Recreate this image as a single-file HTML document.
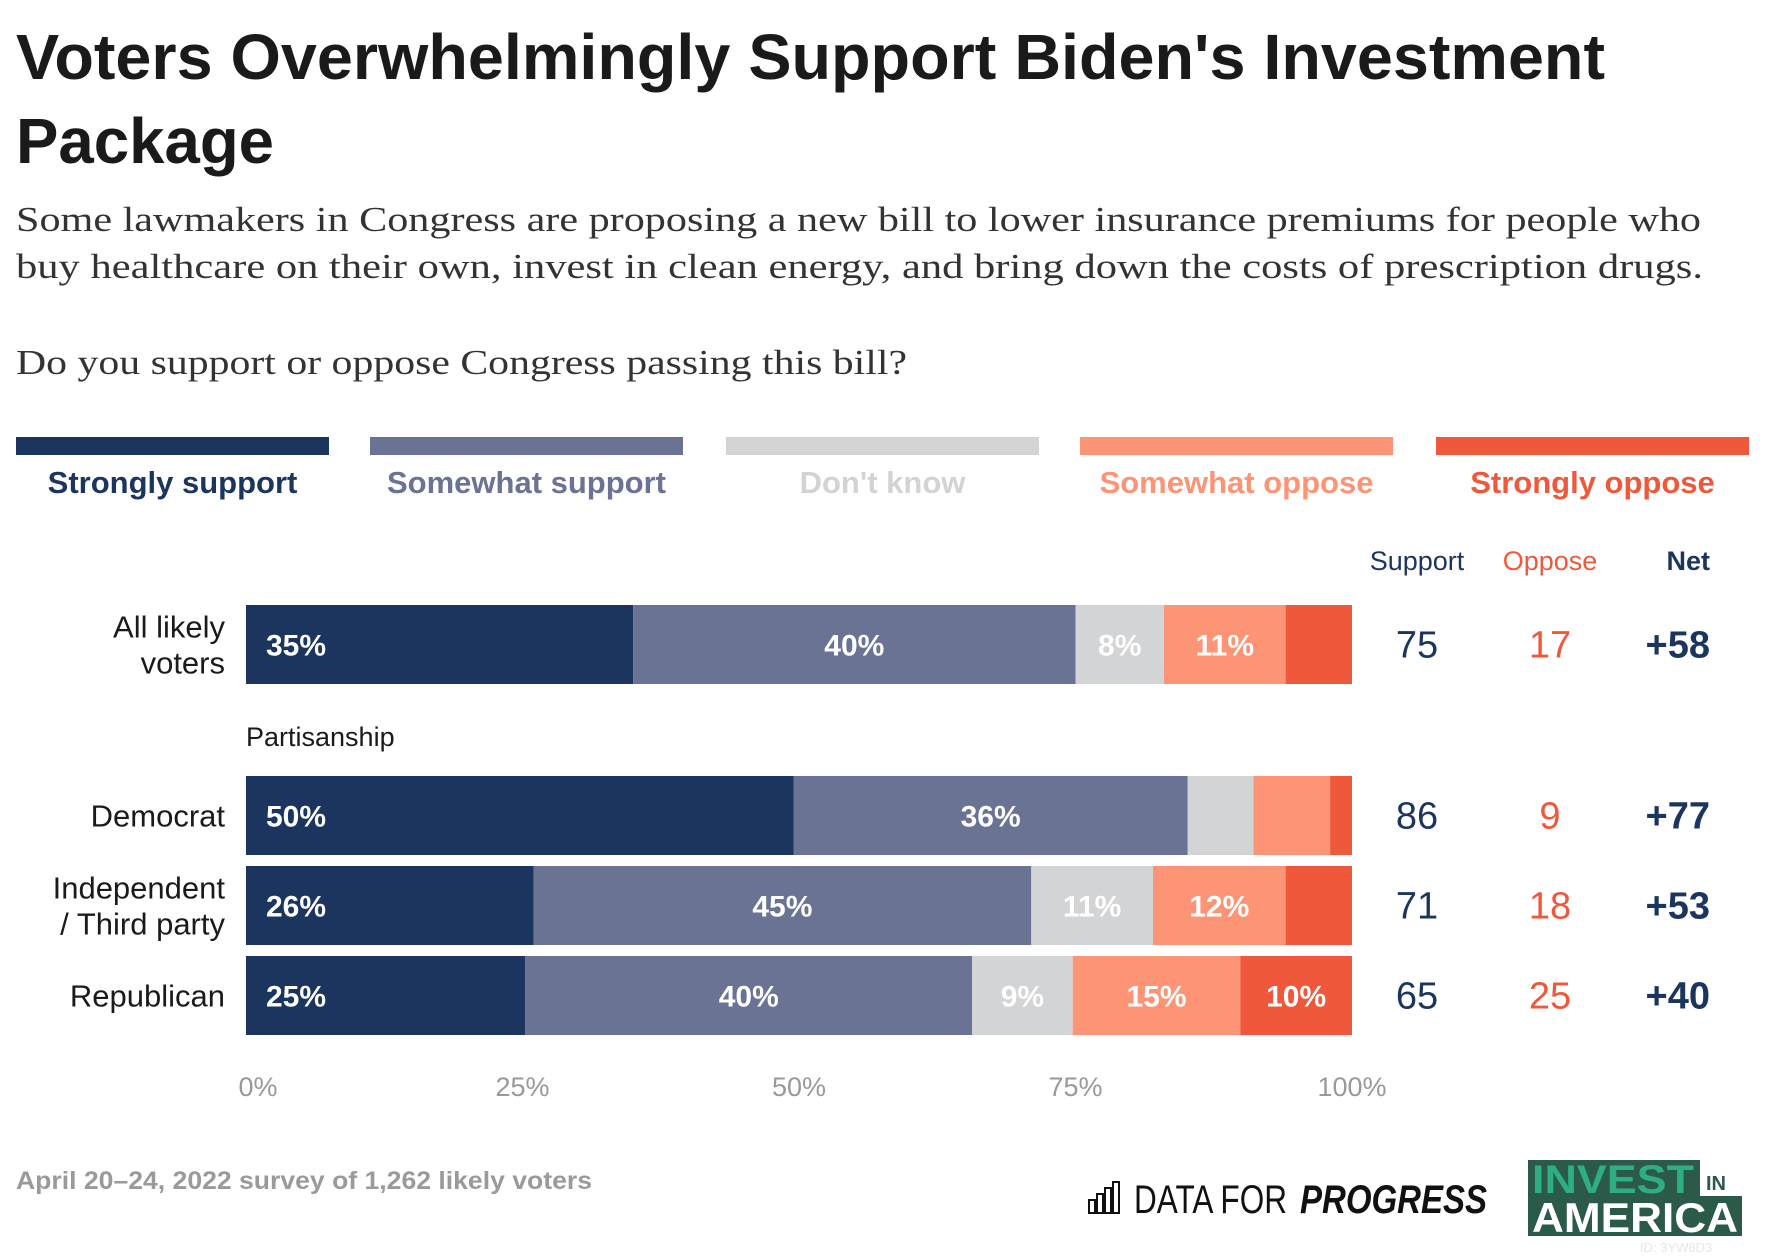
<!DOCTYPE html>
<html><head><meta charset="utf-8"><style>
html,body{margin:0;padding:0;background:#fff;}
svg{display:block;font-family:"Liberation Sans",Arial,sans-serif;}
</style></head><body>
<svg id="chart" width="1766" height="1258" viewBox="0 0 1766 1258" xmlns="http://www.w3.org/2000/svg">
<rect width="1766" height="1258" fill="#fff"/>
<text x="16" y="79" font-size="64" font-weight="bold" fill="#1a1a1a" textLength="1589" lengthAdjust="spacingAndGlyphs">Voters Overwhelmingly Support Biden's Investment</text>
<text x="16" y="163" font-size="64" font-weight="bold" fill="#1a1a1a" textLength="258" lengthAdjust="spacingAndGlyphs">Package</text>
<g font-family="'Liberation Serif',serif" font-size="35" fill="#333">
<text x="16" y="231" textLength="1685" lengthAdjust="spacingAndGlyphs">Some lawmakers in Congress are proposing a new bill to lower insurance premiums for people who</text>
<text x="16" y="278" textLength="1687" lengthAdjust="spacingAndGlyphs">buy healthcare on their own, invest in clean energy, and bring down the costs of prescription drugs.</text>
<text x="16" y="374" textLength="891" lengthAdjust="spacingAndGlyphs">Do you support or oppose Congress passing this bill?</text>
</g>
<g id="legend"></g>
<g id="headers" font-size="27">
<text x="1417" y="570" text-anchor="middle" fill="#1c355e">Support</text>
<text x="1550" y="570" text-anchor="middle" fill="#f0583b">Oppose</text>
<text x="1710" y="570" text-anchor="end" fill="#1c355e" font-weight="bold">Net</text>
</g>
<text x="246" y="746" font-size="27" fill="#1a1a1a">Partisanship</text>
<g id="bars"></g>
<g id="axis"></g>
<text x="16" y="1189" font-size="25" font-weight="bold" fill="#9a9a9a" textLength="576" lengthAdjust="spacingAndGlyphs">April 20–24, 2022 survey of 1,262 likely voters</text>
<g>
<g fill="none" stroke="#111" stroke-width="2">
<rect x="1089" y="1200" width="6" height="13"/><rect x="1097" y="1194" width="6" height="19"/><rect x="1105" y="1188" width="6" height="25"/><rect x="1113" y="1182" width="6" height="31"/>
</g>
<text x="1134" y="1213" font-size="40" fill="#111" textLength="153" lengthAdjust="spacingAndGlyphs">DATA FOR</text>
<text x="1300" y="1213" font-size="40" font-weight="bold" font-style="italic" fill="#111" textLength="187" lengthAdjust="spacingAndGlyphs">PROGRESS</text>
</g>
<g font-weight="bold">
<rect x="1528" y="1160" width="172" height="38" fill="#2b5a48"/>
<rect x="1528" y="1196" width="214" height="40" fill="#2b5a48"/>
<text x="1532" y="1193" font-size="40" fill="#2fae86" textLength="162" lengthAdjust="spacingAndGlyphs">INVEST</text>
<text x="1706" y="1190" font-size="20" fill="#2b5a48">IN</text>
<text x="1532" y="1232" font-size="42" fill="#fff" textLength="206" lengthAdjust="spacingAndGlyphs">AMERICA</text>
<text x="1640" y="1252" font-size="13" fill="#e6e6e6" font-weight="normal">ID: 3YW8D3</text>
</g>
</svg>
<script>
const categories = ["All likely voters","Democrat","Independent / Third party","Republican"];
const seriesNames = ["Strongly support","Somewhat support","Don't know","Somewhat oppose","Strongly oppose"];
const stronglySupport = [35,50,26,25];
const somewhatSupport = [40,36,45,40];
const dontKnow = [8,6,11,9];
const somewhatOppose = [11,7,12,15];
const stronglyOppose = [6,2,6,10];
const supportTotals = [75,86,71,65];
const opposeTotals = [17,9,18,25];
const netValues = ["+58","+77","+53","+40"];
const tickValues = [0,25,50,75,100];
const tickLabels = ["0%","25%","50%","75%","100%"];

const NS="http://www.w3.org/2000/svg";
const colors=["#1c355e","#6a7394","#d3d4d6","#fd9476","#f0583b"];
const legendText=["#1c355e","#6a7394","#d3d3d3","#fd9476","#f0583b"];
const X0=246,X1=1352;
const xScale=v=>X0+(X1-X0)*v/100;
const rowTops=[605,776,866,956];
const rowH=79;
const rowLabels=[["All likely","voters"],["Democrat"],["Independent","/ Third party"],["Republican"]];
function mk(tag,attrs,parent,text){const e=document.createElementNS(NS,tag);for(const k in attrs)e.setAttribute(k,attrs[k]);if(text!==undefined)e.textContent=text;parent.appendChild(e);return e;}

// legend
const lg=document.getElementById('legend');
const legX=[16,370,726,1080,1436],legW=313;
seriesNames.forEach((n,i)=>{
  const r=mk('rect',{x:legX[i],y:437,width:legW,height:18,fill:colors[i]},lg);
  
  
  const t=mk('text',{x:legX[i]+legW/2,y:493,'text-anchor':'middle','font-size':31,'font-weight':'bold',fill:legendText[i]},lg,n);
  
  
});

// bars
const bg=document.getElementById('bars');
const series=[stronglySupport,somewhatSupport,dontKnow,somewhatOppose,stronglyOppose];
categories.forEach((c,ri)=>{
  const y=rowTops[ri],cy=y+rowH/2;
  const total=series.reduce((s,a)=>s+a[ri],0);
  let acc=0;
  series.forEach((arr,si)=>{
    const v=arr[ri];
    const xa=xScale(acc/total*100),xb=xScale((acc+v)/total*100);
    const r=mk('rect',{x:xa,y:y,width:Math.max(0,xb-xa),height:rowH,fill:colors[si]},bg);
    
    
    if(v>=8){
      const t=mk('text',{x:si===0?xa+20:(xa+xb)/2,y:cy+11,'text-anchor':si===0?'start':'middle','font-size':30,'font-weight':'bold',fill:'#fff'},bg,v+'%');
      
      
    }
    acc+=v;
  });
  const lines=rowLabels[ri];
  lines.forEach((ln,li)=>{
    const yy=lines.length===1?cy+11:cy-7+li*36;
    const t=mk('text',{x:225,y:yy,'text-anchor':'end','font-size':31,fill:'#1a1a1a'},bg,ln);
    
    
  });
  const s=mk('text',{x:1417,y:cy+13,'text-anchor':'middle','font-size':38,fill:'#1c355e'},bg,supportTotals[ri]);
  
  
  const o=mk('text',{x:1550,y:cy+13,'text-anchor':'middle','font-size':38,fill:'#f0583b'},bg,opposeTotals[ri]);
  
  
  const n=mk('text',{x:1710,y:cy+13,'text-anchor':'end','font-size':38,'font-weight':'bold',fill:'#1c355e'},bg,netValues[ri]);
  
  
});

// axis
const ax=document.getElementById('axis');
tickValues.forEach((v,i)=>{
  const t=mk('text',{x:xScale(v)+(i===0?12:0),y:1096,'text-anchor':'middle','font-size':27,fill:'#999'},ax,tickLabels[i]);
  
  
});
</script>
</body></html>
